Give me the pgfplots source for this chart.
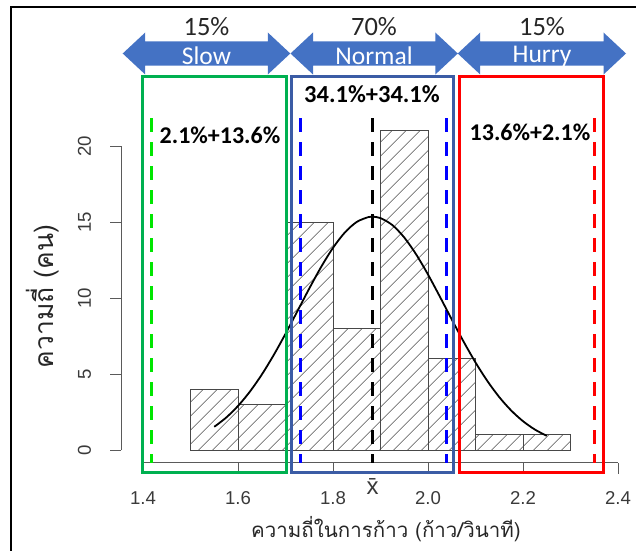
\documentclass[border=0pt]{standalone}
\usepackage{fontspec}
\setmainfont{Liberation Sans}
\newfontfamily\calibri{Carlito}
\newfontfamily\thaifont[Script=Thai]{Loma}
\usepackage{pgfplots}
\pgfplotsset{compat=1.18}
\usetikzlibrary{patterns.meta}
\definecolor{arrowblue}{HTML}{4472C4}
\definecolor{boxgreen}{HTML}{00B050}
\definecolor{boxblue}{HTML}{3B5CA5}
\definecolor{axgray}{HTML}{5A5A5A}
\definecolor{txtgray}{HTML}{3A3A3A}
\definecolor{dgreen}{HTML}{00E600}
\newcommand{\dblarrow}[2]{\fill[arrowblue] (#1,53.5) -- ({#1+22.5},32.5) -- ({#1+22.5},41.5) -- ({#2-22.5},41.5) -- ({#2-22.5},32.5) -- (#2,53.5) -- ({#2-22.5},74.5) -- ({#2-22.5},65.5) -- ({#1+22.5},65.5) -- ({#1+22.5},74.5) -- cycle;}
\begin{document}
\begin{tikzpicture}
\begin{axis}[
  x=475pt, y=15.2pt,
  xmin=1.354, xmax=2.44, ymin=-0.84, ymax=21.84,
  clip=false,
  axis x line*=bottom, axis y line*=left,
  axis line style={draw=none},
  tick align=outside,
  major tick length=11pt,
  tick style={axgray, line width=0.9pt},
  xtick={1.4,1.6,1.8,2.0,2.2,2.4},
  xticklabels={1.4,1.6,1.8,2.0,2.2,2.4},
  ytick={0,5,10,15,20},
  yticklabels={0,5,10,15,20},
  tick label style={font=\fontsize{18.6}{20}\selectfont, text=txtgray},
  xticklabel style={anchor=north, inner sep=0pt},
  xticklabel shift=18pt,
  yticklabel style={rotate=90, anchor=south, inner sep=0pt},
  yticklabel shift=19pt,
]
% histogram
\addplot[ybar interval, draw=axgray!80!black, line width=0.9pt,
  pattern={Lines[angle=45,distance=10.5pt,line width=0.8pt]}, pattern color=axgray!90!black]
  coordinates {(1.5,4)(1.6,3)(1.7,15)(1.8,8)(1.9,21)(2.0,6)(2.1,1)(2.2,1)(2.3,1)};
% R-style axis lines
\draw[axgray, line width=0.9pt] (axis cs:1.4,-0.84) -- (axis cs:2.4,-0.84);
\draw[axgray, line width=0.9pt] (axis cs:1.354,0) -- (axis cs:1.354,20);
% reference lines (mean +- k sd)
\addplot[dgreen, line width=3pt, dash pattern=on 14pt off 10pt] coordinates {(1.417,21.84)(1.417,-0.84)};
\addplot[blue, line width=3pt, dash pattern=on 14pt off 10pt] coordinates {(1.731,21.84)(1.731,-0.84)};
\addplot[black, line width=3pt, dash pattern=on 14pt off 10pt] coordinates {(1.883,21.84)(1.883,-0.84)};
\addplot[blue, line width=3pt, dash pattern=on 14pt off 10pt] coordinates {(2.039,21.84)(2.039,-0.84)};
\addplot[red, line width=3pt, dash pattern=on 14pt off 10pt] coordinates {(2.350,21.84)(2.350,-0.84)};
% normal curve
\addplot[black, line width=1.8pt, smooth] coordinates {
(1.550,1.527)(1.575,2.131)(1.600,2.899)(1.625,3.841)(1.650,4.959)(1.675,6.238)
(1.700,7.646)(1.725,9.130)(1.750,10.622)(1.775,12.042)(1.800,13.300)(1.825,14.312)
(1.850,15.006)(1.875,15.330)(1.883,15.350)(1.900,15.258)(1.925,14.797)(1.950,13.981)
(1.975,12.871)(2.000,11.545)(2.025,10.089)(2.050,8.591)(2.075,7.127)(2.100,5.761)
(2.125,4.537)(2.150,3.481)(2.175,2.603)(2.200,1.896)(2.225,1.346)(2.250,0.931)};
\end{axis}
\begin{scope}[shift={(-121.15pt,462.77pt)}, x=1pt, y=-1pt]
% frame
\draw[black, line width=2pt] (11.5,551) -- (11.5,6.8) -- (637,6.8);
% boxes
\draw[boxgreen, line width=3pt] (142.3,76.7) rectangle (286,472.5);
\draw[boxblue, line width=2.6pt] (291.7,76.5) rectangle (453.5,472.5);
\draw[red, line width=3pt] (459.3,76.3) rectangle (603.3,472.3);
% arrows
\dblarrow{122.7}{290.3}
\dblarrow{290.5}{457.8}
\dblarrow{457.7}{626}
\node[anchor=base, font=\calibri\fontsize{26.5}{26.5}\selectfont, text=black!85] at (206.5,36) {15\%};
\node[anchor=base, font=\calibri\fontsize{26.5}{26.5}\selectfont, text=black!85] at (374,36) {70\%};
\node[anchor=base, font=\calibri\fontsize{26.5}{26.5}\selectfont, text=black!85] at (542,36) {15\%};
\node[anchor=base, font=\calibri\fontsize{25.5}{25.5}\selectfont, text=white] at (206.5,64.5) {Slow};
\node[anchor=base, font=\calibri\fontsize{25.5}{25.5}\selectfont, text=white] at (374,64.5) {Normal};
\node[anchor=base, font=\calibri\fontsize{25.5}{25.5}\selectfont, text=white] at (542,62.5) {Hurry};
% percentages
\node[anchor=base, font=\calibri\bfseries\fontsize{24.5}{24.5}\selectfont] at (372,102) {34.1\%+34.1\%};
\node[anchor=base, font=\calibri\bfseries\fontsize{24}{24}\selectfont] at (220,143) {2.1\%+13.6\%};
\node[anchor=base, font=\calibri\bfseries\fontsize{24}{24}\selectfont] at (530,140.5) {13.6\%+2.1\%};
% x bar
\node[anchor=base, font=\fontsize{24}{24}\selectfont, text=txtgray] at (372.6,494) {\={x}};
% axis titles
\node[anchor=base, font=\thaifont\fontsize{20.5}{20.5}\selectfont, text=black!85] at (386,537) {ความถี่ในการก้าว (ก้าว/วินาที)};
\node[anchor=base, rotate=90, font=\thaifont\fontsize{26.5}{26.5}\selectfont, text=black!85] at (53.5,296.5) {ความถี่ (คน)};
\pgfresetboundingbox
\path[use as bounding box] (0,0) rectangle (636,550);
\end{scope}
\end{tikzpicture}
\end{document}
